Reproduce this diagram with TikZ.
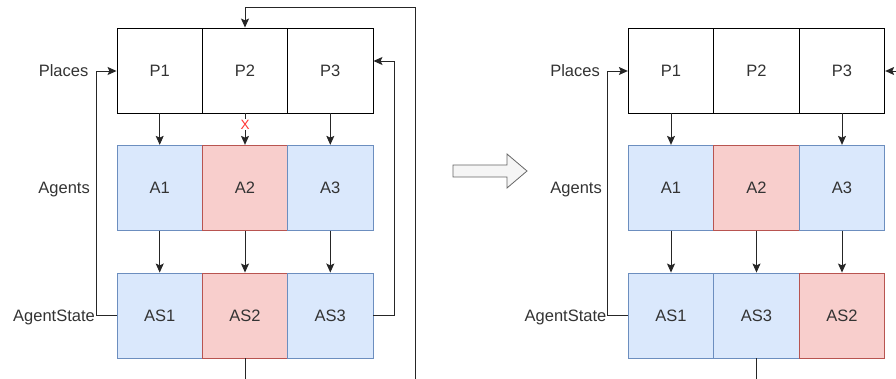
\documentclass[tikz,border=0pt]{standalone}
\usepackage{fontspec}
\setmainfont{Liberation Sans}
\usetikzlibrary{arrows.meta}
\definecolor{txt}{HTML}{333333}
\definecolor{bfill}{HTML}{DAE8FC}
\definecolor{bline}{HTML}{6C8EBF}
\definecolor{rfill}{HTML}{F8CECC}
\definecolor{rline}{HTML}{B85450}
\definecolor{gfill}{HTML}{F5F5F5}
\definecolor{gline}{HTML}{666666}
\definecolor{xred}{HTML}{FF3333}
\tikzset{
  cell/.style={draw=black, line width=0.9pt, minimum width=85.4pt, minimum height=85pt, inner sep=0pt,
    text=txt, font=\fontsize{16.5}{18}\selectfont, text height=11.8pt, text depth=0pt},
  bcell/.style={cell, draw=bline, fill=bfill},
  rcell/.style={cell, draw=rline, fill=rfill},
  lab/.style={anchor=east, inner sep=0pt, text=txt, font=\fontsize{16.5}{18}\selectfont, text height=11.8pt, text depth=0pt},
  conn/.style={line width=0.9pt, draw=black!85},
  arr/.style={conn, -{Stealth[length=9pt,width=8pt,inset=1.8pt]}},
}
\begin{document}
\begin{tikzpicture}[x=1pt,y=-1pt]
\useasboundingbox (0,0) rectangle (896,379);
% ---------- left panel ----------
\node[cell]  (P1) at (159.7,70.5) {P1};
\node[cell]  (P2) at (245,70.5) {P2};
\node[cell]  (P3) at (330.3,70.5) {P3};
\node[bcell] (A1) at (159.7,187.8) {A1};
\node[rcell] (A2) at (245,187.8) {A2};
\node[bcell] (A3) at (330.3,187.8) {A3};
\node[bcell] (S1) at (159.7,315.5) {AS1};
\node[rcell] (S2) at (245,315.5) {AS2};
\node[bcell] (S3) at (330.3,315.5) {AS3};
\node[lab] (Lp) at (88.5,71) {Places};
\node[lab] (La) at (90,188) {Agents};
\node[lab] (Ls) at (95,316) {AgentState};

\draw[arr] (P1.south) -- (A1.north);
\draw[arr] (P2.south) -- node[fill=white, inner sep=0.5pt, text=xred, font=\fontsize{13.5}{14}\selectfont, text height=9.7pt, text depth=0pt, pos=0.36] {X} (A2.north);
\draw[arr] (P3.south) -- (A3.north);
\draw[arr] (A1.south) -- (S1.north);
\draw[arr] (A2.south) -- (S2.north);
\draw[arr] (A3.south) -- (S3.north);
\coordinate (lb) at (96,0);
\draw[arr] (S1.west) -| (lb |- Lp.east) -- (P1.west |- Lp.east);
\coordinate (rb) at (394,61);
\draw[arr] (S3.east) -| (rb) -- (P3.east |- rb);
\coordinate (bot1) at (415.5,379);
\coordinate (top1) at (415.5,7);
\draw[arr] (bot1) -- (top1) -| (P2.north);
\coordinate (bot2) at (245,379);
\draw[conn] (S2.south) -- (bot2);

% ---------- block arrow ----------
\draw[fill=gfill, draw=gline, line width=0.8pt]
  (453,165) -- (507,165) -- (507,154) -- (527,171) -- (507,188) -- (507,177) -- (453,177) -- cycle;

% ---------- right panel ----------
\node[cell]  (Q1) at (671,70.5) {P1};
\node[cell]  (Q2) at (756.5,70.5) {P2};
\node[cell]  (Q3) at (842,70.5) {P3};
\node[bcell] (B1) at (671,187.8) {A1};
\node[rcell] (B2) at (756.5,187.8) {A2};
\node[bcell] (B3) at (842,187.8) {A3};
\node[bcell] (T1) at (671,315.5) {AS1};
\node[bcell] (T3) at (756.5,315.5) {AS3};
\node[rcell] (T2) at (842,315.5) {AS2};
\node[lab] (Mp) at (600,71) {Places};
\node[lab] (Ma) at (602,188) {Agents};
\node[lab] (Ms) at (606.5,316) {AgentState};

\draw[arr] (Q1.south) -- (B1.north);
\draw[arr] (Q3.south) -- (B3.north);
\draw[arr] (B1.south) -- (T1.north);
\draw[arr] (B2.south) -- (T3.north);
\draw[arr] (B3.south) -- (T2.north);
\coordinate (lb2) at (607.3,0);
\draw[arr] (T1.west) -| (lb2 |- Mp.east) -- (Q1.west |- Mp.east);
\coordinate (redge) at (897,71);
\draw[arr] (redge) -- (Q3.east |- redge);
\coordinate (bot3) at (756.5,379);
\draw[conn] (T3.south) -- (bot3);
\end{tikzpicture}
\end{document}
